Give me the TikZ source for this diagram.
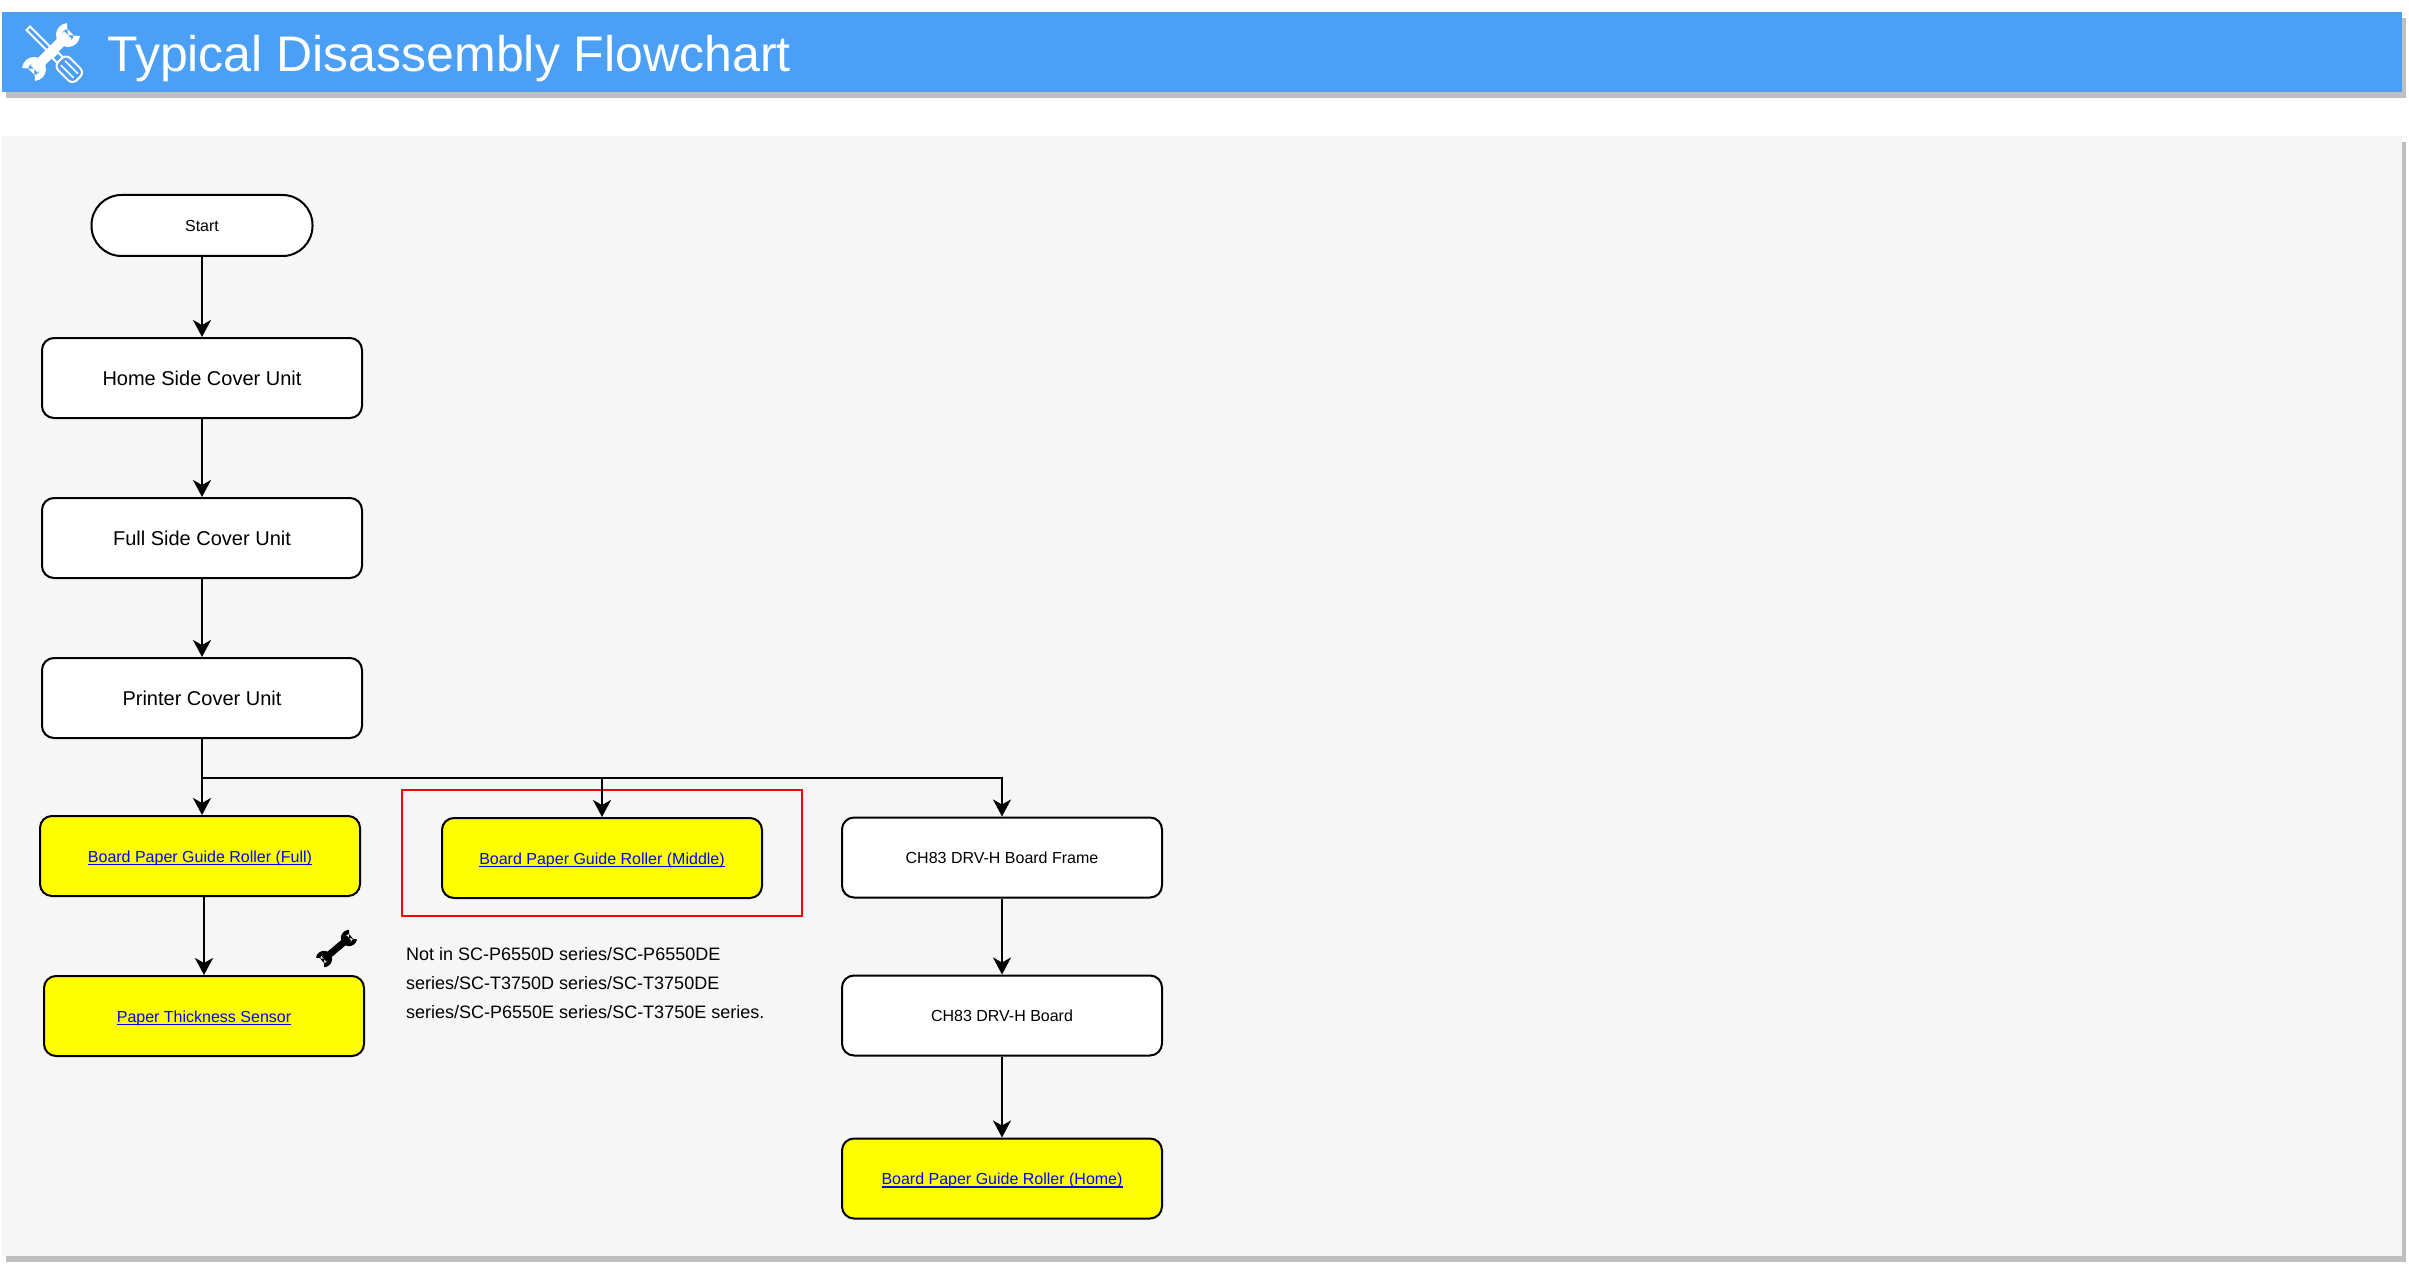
\documentclass[tikz,border=0pt]{standalone}
\usepackage{fontspec}
\setmainfont{Liberation Sans}
\usetikzlibrary{positioning,arrows.meta,calc}
\definecolor{banner}{HTML}{4BA0F5}
\definecolor{panel}{HTML}{F6F6F6}
\definecolor{dropshadow}{HTML}{BFBFBF}
\definecolor{linkblue}{HTML}{0000FF}
\definecolor{boxyellow}{HTML}{FFFF00}
\newcommand{\linktext}[1]{\setbox0=\hbox{#1}\rlap{\vrule width\wd0 height-1.5pt depth3.2pt}\box0}

\begin{document}
\begin{tikzpicture}[x=1pt, y=-1pt,
  box/.style={draw=black, line width=2pt, fill=white, rounded corners=12pt, minimum width=320pt,
              minimum height=80pt, inner sep=0, text=black, text height=14pt, text depth=2pt,
              font=\fontsize{16}{18}\selectfont},
  bigbox/.style={box, text height=16pt, text depth=1pt, font=\fontsize{20}{22}\selectfont},
  linkbox/.style={box, fill=boxyellow, text=linkblue, text height=14pt, text depth=2pt},
  pill/.style={box, rounded corners=30pt, minimum width=221pt, minimum height=61pt},
  arr/.style={-{Stealth[length=17pt, width=18pt, inset=5pt]}, line width=2.4pt},
  wrenchicon/.pic={
    \fill (-24,-5) rectangle (24,5);
    \fill (24,0) ++(50:12) arc (50:310:12) -- (24,0) ++(310:6) arc (310:50:6) -- cycle;
    \fill (-24,0) ++(230:12) arc (230:490:12) -- (-24,0) ++(490:6) arc (490:230:6) -- cycle;
  }]
\useasboundingbox (0,0) rectangle (2409,1265);
\fill[dropshadow] (6,18) rectangle (2406,98);
\fill[banner] (2,12) rectangle (2402,92);
\fill[dropshadow] (6,142) rectangle (2406,1262);
\fill[panel] (2,136) rectangle (2402,1256);
\node[anchor=base west, inner sep=0, text=white, font=\fontsize{50}{50}\selectfont] (title) at (107,72) {Typical Disassembly Flowchart};

\begin{scope}[shift={(53,53)}, rotate=-45]
  \draw[white, line width=2pt] (-35,-2.5) rectangle (0,2.5);
\end{scope}
\pic[white, rotate=45] at (51,52) {wrenchicon};
\begin{scope}[shift={(53,53)}, rotate=-45]
  \draw[white, fill=banner, line width=2pt] (3,-4) rectangle (11,4);
  \draw[white, fill=banner, line width=2pt, rounded corners=6pt] (10,-8.5) rectangle (36,8.5);
  \draw[white, line width=1.5pt] (14,-3) -- (32,-3) (14,3) -- (32,3);
\end{scope}

\node[draw=red, line width=2pt, minimum width=400pt, minimum height=126pt, inner sep=0] (redframe) at (602,853) {};

\node[pill] (start) at (202,225.5) {Start};
\foreach \n/\y/\t in {home/378/Home Side Cover Unit, fullcover/538/Full Side Cover Unit, printer/698/Printer Cover Unit}
  \node[bigbox] (\n) at (202,\y) {\t};
\node[linkbox] (full) at (200,856) {\linktext{Board Paper Guide Roller (Full)}};
\node[linkbox] (middle) at (602,858) {\linktext{Board Paper Guide Roller (Middle)}};
\node[linkbox] (sensor) at (204,1016) {\linktext{Paper Thickness Sensor}};
\node[box] (frame) at (1002,857.5) {CH83 DRV-H Board Frame};
\node[box] (board) at (1002,1015.5) {CH83 DRV-H Board};
\node[linkbox] (homeroller) at (1002,1178.5) {\linktext{Board Paper Guide Roller (Home)}};

\node[anchor=north west, inner sep=0, align=left, text=black, font=\fontsize{18}{29}\selectfont] (note) at (406,947)
  {Not in SC-P6550D series/SC-P6550DE\\series/SC-T3750D series/SC-T3750DE\\series/SC-P6550E series/SC-T3750E series.};
\pic[black, rotate=40, scale=.68] at (336.5,948.5) {wrenchicon};

\coordinate (split) at (printer.south |- 0,778);
\draw[arr] (start) -- (home);
\draw[arr] (home) -- (fullcover);
\draw[arr] (fullcover) -- (printer);
\draw[arr] (printer.south) -- (printer.south |- full.north);
\draw[arr] (split) -| (middle.north);
\draw[arr] (split) -| (frame.north);
\draw[arr] (sensor.north |- full.south) -- (sensor.north);
\draw[arr] (frame) -- (board);
\draw[arr] (board) -- (homeroller);
\end{tikzpicture}
\end{document}
